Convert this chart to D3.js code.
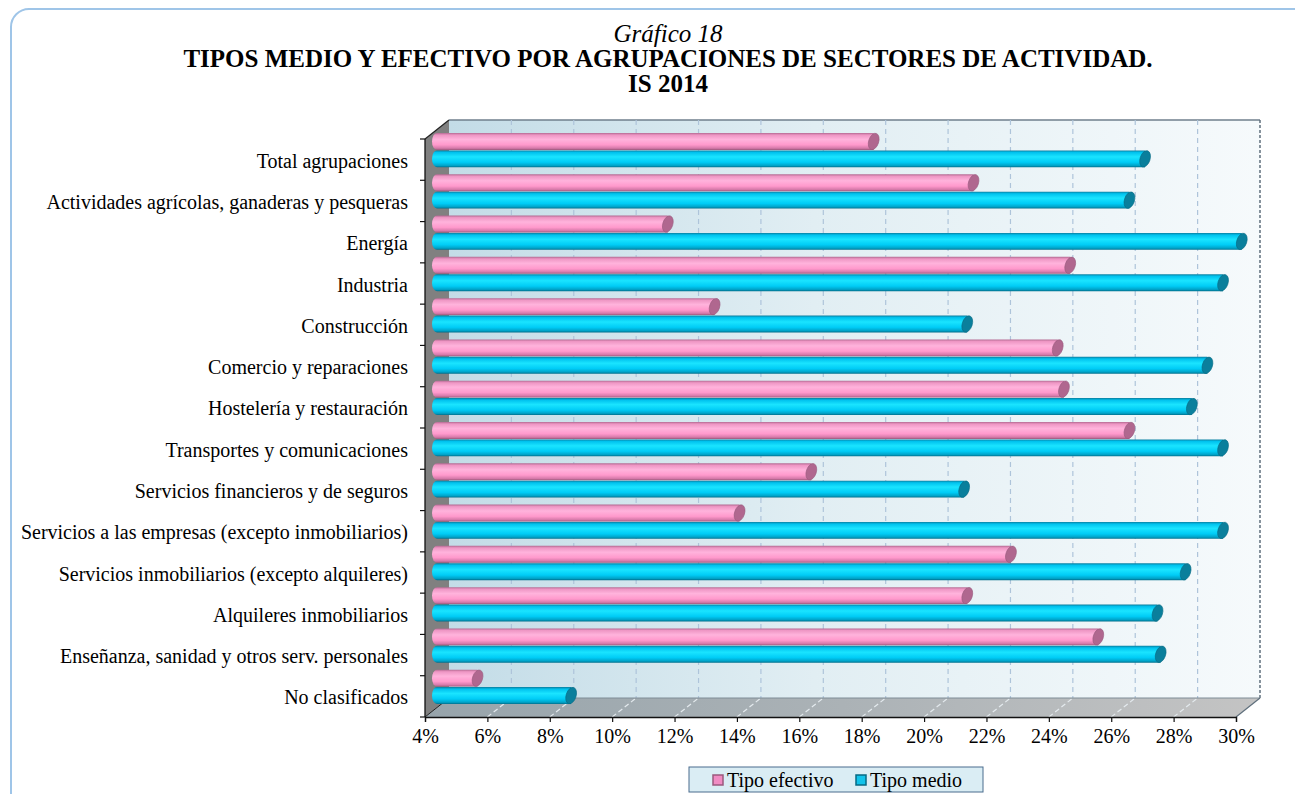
<!DOCTYPE html>
<html>
<head>
<meta charset="utf-8">
<script src="https://cdn.jsdelivr.net/npm/d3@7"></script>
<style>
  html, body { margin: 0; padding: 0; background: #ffffff; }
  svg { display: block; font-family: "Liberation Serif", "Times New Roman", serif; }
</style>
</head>
<body>
<svg id="chart" width="1295" height="794"></svg>
<script>
// Sector groups, top to bottom
const categories = [
  "Total agrupaciones",
  "Actividades agrícolas, ganaderas y pesqueras",
  "Energía",
  "Industria",
  "Construcción",
  "Comercio y reparaciones",
  "Hostelería y restauración",
  "Transportes y comunicaciones",
  "Servicios financieros y de seguros",
  "Servicios a las empresas (excepto inmobiliarios)",
  "Servicios inmobiliarios (excepto alquileres)",
  "Alquileres inmobiliarios",
  "Enseñanza, sanidad y otros serv. personales",
  "No clasificados"
];

const seriesNames = ["Tipo efectivo", "Tipo medio"];

// Rates in %
const tipoEfectivo = [18.0, 21.2, 11.4, 24.3, 12.9, 23.9, 24.1, 26.2, 16.0, 13.7, 22.4, 21.0, 25.2, 5.3];
const tipoMedio    = [26.7, 26.2, 29.8, 29.2, 21.0, 28.7, 28.2, 29.2, 20.9, 29.2, 28.0, 27.1, 27.2, 8.3];

const tickValues = [4, 6, 8, 10, 12, 14, 16, 18, 20, 22, 24, 26, 28, 30];

const svg = d3.select("#chart");
const FONT = '"Liberation Serif", "Times New Roman", serif';

// Front plane of the 3D box and its depth offset
const front = { left: 425, right: 1236, top: 139, bottom: 717 };
const depth = { dx: 24, dy: -19 };
const mid = { dx: depth.dx / 2, dy: depth.dy / 2 };

const x = d3.scaleLinear().domain([4, 30]).range([front.left, front.right]);
const y = d3.scaleBand().domain(categories).range([front.top, front.bottom]).paddingInner(0.17).paddingOuter(0.085);
const yFull = d3.scaleBand().domain(categories).range([front.top, front.bottom]);
const ySub = d3.scaleBand().domain(seriesNames).range([0, y.bandwidth()]).paddingInner(0.03);

const defs = svg.append("defs");

function linGrad(id, x1, y1, x2, y2, stops) {
  const g = defs.append("linearGradient").attr("id", id)
    .attr("x1", x1).attr("y1", y1).attr("x2", x2).attr("y2", y2);
  stops.forEach(s => g.append("stop").attr("offset", s[0]).attr("stop-color", s[1]));
}
linGrad("wallGrad", "0", "0", "1", "0", [[0, "#c3dce7"], [0.45, "#e1eef3"], [1, "#f6fafc"]]);
linGrad("floorGrad", "0", "0", "1", "0", [[0, "#97a4ab"], [0.5, "#abb2b6"], [1, "#c4c4c4"]]);
linGrad("pinkGrad", "0", "0", "0", "1", [[0, "#b46b93"], [0.12, "#ee96c4"], [0.38, "#ffb3dc"], [0.7, "#ff99cc"], [0.9, "#d67aaa"], [1, "#9c5a7e"]]);
linGrad("blueGrad", "0", "0", "0", "1", [[0, "#0a7fa0"], [0.12, "#00c2ee"], [0.38, "#1ae4ff"], [0.7, "#00ccf6"], [0.9, "#00a3c8"], [1, "#006f8c"]]);

// Outer rounded frame
svg.append("rect")
  .attr("x", 11).attr("y", 9).attr("width", 1310).attr("height", 810)
  .attr("rx", 18).attr("ry", 18)
  .attr("fill", "#ffffff").attr("stroke", "#9fc5e8").attr("stroke-width", 2);

// Titles
const titleX = 668;
svg.append("text").attr("x", titleX).attr("y", 42).attr("text-anchor", "middle")
  .style("font-family", FONT).style("font-size", "25px").style("font-style", "italic")
  .text("Gráfico 18");
svg.append("text").attr("x", titleX).attr("y", 67).attr("text-anchor", "middle")
  .style("font-family", FONT).style("font-size", "25px").style("font-weight", "bold")
  .text("TIPOS MEDIO Y EFECTIVO POR AGRUPACIONES DE SECTORES DE ACTIVIDAD.");
svg.append("text").attr("x", titleX).attr("y", 92).attr("text-anchor", "middle")
  .style("font-family", FONT).style("font-size", "25px").style("font-weight", "bold")
  .text("IS 2014");

const backL = x(4) + depth.dx, backR = x(30) + depth.dx;
const backT = front.top + depth.dy, backB = front.bottom + depth.dy;

// Back wall
svg.append("rect")
  .attr("x", backL).attr("y", backT).attr("width", backR - backL).attr("height", backB - backT)
  .attr("fill", "url(#wallGrad)");
svg.append("line").attr("x1", backL).attr("x2", backR).attr("y1", backT).attr("y2", backT)
  .attr("stroke", "#6f7f8c").attr("stroke-width", 1.5);
svg.append("line").attr("x1", backR).attr("x2", backR).attr("y1", backT).attr("y2", backB)
  .attr("stroke", "#5f6f7c").attr("stroke-width", 1.5).attr("stroke-dasharray", "3,2");

// Back wall grid lines
svg.append("g").selectAll("line")
  .data(tickValues.filter(v => v > 4 && v < 30))
  .join("line")
  .attr("x1", d => x(d) + depth.dx).attr("x2", d => x(d) + depth.dx)
  .attr("y1", backT).attr("y2", backB)
  .attr("stroke", "#aec4da").attr("stroke-width", 1.2).attr("stroke-dasharray", "5,4");

// Floor
svg.append("polygon")
  .attr("points", [[front.left, front.bottom], [front.right, front.bottom], [backR, backB], [backL, backB]].join(" "))
  .attr("fill", "url(#floorGrad)");
svg.append("g").selectAll("line")
  .data(tickValues.filter(v => v > 4 && v < 30))
  .join("line")
  .attr("x1", d => x(d)).attr("y1", front.bottom)
  .attr("x2", d => x(d) + depth.dx).attr("y2", backB)
  .attr("stroke", "#e4eaee").attr("stroke-width", 1.2).attr("stroke-dasharray", "5,3");
svg.append("line").attr("x1", backL).attr("x2", backR).attr("y1", backB).attr("y2", backB)
  .attr("stroke", "#7f8c96").attr("stroke-width", 1);
svg.append("line").attr("x1", front.right).attr("y1", front.bottom).attr("x2", backR).attr("y2", backB)
  .attr("stroke", "#5f6f7c").attr("stroke-width", 1.2);

// Left wall
svg.append("polygon")
  .attr("points", [[front.left, front.top], [backL, backT], [backL, backB], [front.left, front.bottom]].join(" "))
  .attr("fill", "#808080");
svg.append("line").attr("x1", front.left).attr("y1", front.top).attr("x2", backL).attr("y2", backT)
  .attr("stroke", "#222").attr("stroke-width", 1.2);
svg.append("line").attr("x1", front.left).attr("y1", front.bottom).attr("x2", backL).attr("y2", backB)
  .attr("stroke", "#222").attr("stroke-width", 1);

// Cylinder bars at mid depth
const capRx = 5;
const series = [
  { name: seriesNames[0], values: tipoEfectivo, fill: "url(#pinkGrad)", cap: "#b0678f", edge: "#9a5a7e" },
  { name: seriesNames[1], values: tipoMedio, fill: "url(#blueGrad)", cap: "#0a7f9c", edge: "#066a84" }
];

const barsG = svg.append("g");
series.forEach(s => {
  const g = barsG.append("g");
  const rows = categories.map((c, i) => ({ cat: c, v: s.values[i] }));
  const x0 = x(4) + mid.dx;
  const h = ySub.bandwidth();
  const top = d => y(d.cat) + ySub(s.name) + mid.dy;
  const xe = d => x(d.v) + mid.dx;

  // body: rounded left end, flat right end under the cap
  g.selectAll("path.body").data(rows).join("path")
    .attr("class", "body")
    .attr("d", d => {
      const t = top(d), r = h / 2;
      return `M${xe(d)},${t} L${x0},${t} A${capRx},${r} 0 0 0 ${x0},${t + h} L${xe(d)},${t + h} Z`;
    })
    .attr("fill", s.fill);

  // right end cap
  g.selectAll("ellipse").data(rows).join("ellipse")
    .attr("cx", d => xe(d)).attr("cy", d => top(d) + h / 2)
    .attr("rx", capRx).attr("ry", h / 2)
    .attr("transform", d => `rotate(18 ${xe(d)} ${top(d) + h / 2})`)
    .attr("fill", s.cap).attr("stroke", s.edge).attr("stroke-width", 0.6);
});

// Left axis: front edge line with ticks at band boundaries
svg.append("line").attr("x1", front.left).attr("x2", front.left)
  .attr("y1", front.top).attr("y2", front.bottom).attr("stroke", "#111").attr("stroke-width", 1.3);
svg.append("g").selectAll("line")
  .data(d3.range(categories.length + 1))
  .join("line")
  .attr("x1", front.left - 5).attr("x2", front.left)
  .attr("y1", i => front.top + i * yFull.step()).attr("y2", i => front.top + i * yFull.step())
  .attr("stroke", "#111").attr("stroke-width", 1.2);

const yAxis = svg.append("g")
  .attr("transform", `translate(${front.left},0)`)
  .call(d3.axisLeft(yFull).tickSize(0).tickPadding(17));
yAxis.select(".domain").remove();
yAxis.selectAll("text")
  .style("font-family", FONT).style("font-size", "20px").attr("fill", "#000")
  .attr("dy", "0.4em");

// Bottom axis
const xAxis = svg.append("g")
  .attr("transform", `translate(0,${front.bottom})`)
  .call(d3.axisBottom(x).tickValues(tickValues).tickFormat(d => d + "%").tickSize(5).tickPadding(7));
xAxis.select(".domain").attr("stroke", "#111").attr("stroke-width", 1.3);
xAxis.selectAll(".tick line").attr("stroke", "#111").attr("stroke-width", 1.2);
xAxis.selectAll("text")
  .style("font-family", FONT).style("font-size", "20px").attr("fill", "#000");

// Legend
const legend = svg.append("g");
legend.append("rect").attr("x", 689).attr("y", 767).attr("width", 294).attr("height", 25)
  .attr("fill", "#daedf4").attr("stroke", "#4a6c8e").attr("stroke-width", 1);
const legendItems = [
  { name: seriesNames[0], x: 713, fill: "#f08cc3", stroke: "#9a5a7e" },
  { name: seriesNames[1], x: 856, fill: "#12c3ea", stroke: "#066a84" }
];
legendItems.forEach(it => {
  legend.append("rect").attr("x", it.x).attr("y", 775).attr("width", 10).attr("height", 10)
    .attr("fill", it.fill).attr("stroke", it.stroke).attr("stroke-width", 1.5);
  legend.append("text").attr("x", it.x + 14).attr("y", 787)
    .style("font-family", FONT).style("font-size", "20px").text(it.name);
});
</script>
</body>
</html>
